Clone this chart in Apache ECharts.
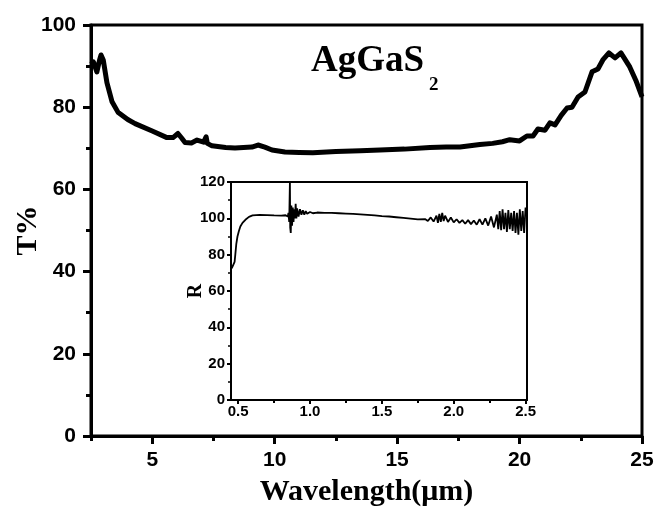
<!DOCTYPE html>
<html>
<head>
<meta charset="utf-8">
<script src="https://cdn.jsdelivr.net/npm/echarts@6/dist/echarts.min.js"></script>
<style>html,body{margin:0;padding:0;background:#fff}#c{width:659px;height:513px}</style>
</head>
<body>
<div id="c"></div>
<script>
// Main transmittance curve (wavelength in µm, T%)
var mainX = [2.5, 2.6, 2.74, 2.85, 2.91, 3.0, 3.15, 3.36, 3.6, 4.0, 4.3, 5.0, 5.6, 5.85, 6.05, 6.2, 6.34, 6.6, 6.83, 7.1, 7.2, 7.25, 7.44, 8.0, 8.38, 9.07, 9.32, 9.6, 9.89, 10.42, 11.0, 11.56, 12.5, 13.5, 14.3, 15.3, 16.34, 17.0, 17.57, 18.38, 18.9, 19.3, 19.6, 20.0, 20.3, 20.55, 20.75, 21.04, 21.24, 21.45, 21.7, 21.94, 22.14, 22.39, 22.67, 22.96, 23.2, 23.4, 23.65, 23.9, 24.14, 24.5, 24.75, 25];
var mainT = [90.5, 91, 88.6, 91.5, 92.7, 91.5, 86, 81.3, 78.8, 77, 76, 74.2, 72.6, 72.6, 73.6, 72.5, 71.4, 71.3, 72, 71.5, 72.8, 71.2, 70.6, 70.2, 70.1, 70.3, 70.8, 70.3, 69.6, 69.1, 69, 68.9, 69.2, 69.4, 69.6, 69.8, 70.2, 70.3, 70.3, 70.9, 71.2, 71.6, 72.1, 71.8, 73, 73, 74.7, 74.4, 76.2, 75.7, 78, 79.8, 80, 82.5, 83.7, 88.6, 89.3, 91.5, 93.2, 92, 93.2, 89.8, 86.5, 82.5];

// Inset reflectance curve (wavelength in µm, R)
var insetX = [0.455, 0.465, 0.475, 0.48, 0.487, 0.495, 0.505, 0.515, 0.53, 0.55, 0.575, 0.6, 0.65, 0.7, 0.75, 0.8, 0.83, 0.845, 0.85, 0.855, 0.86, 0.862, 0.866, 0.87, 0.875, 0.88, 0.885, 0.89, 0.895, 0.9, 0.905, 0.91, 0.92, 0.93, 0.94, 0.95, 0.96, 0.97, 0.98, 1.0, 1.02, 1.05, 1.1, 1.15, 1.2, 1.25, 1.3, 1.35, 1.4, 1.45, 1.5, 1.55, 1.6, 1.65, 1.7, 1.75, 1.8, 1.82, 1.84, 1.86, 1.88, 1.89, 1.9, 1.91, 1.92, 1.93, 1.94, 1.96, 1.98, 2.0, 2.02, 2.04, 2.06, 2.08, 2.1, 2.12, 2.14, 2.16, 2.18, 2.2, 2.22, 2.24, 2.26, 2.28, 2.3, 2.31, 2.32, 2.33, 2.34, 2.35, 2.36, 2.37, 2.38, 2.39, 2.4, 2.41, 2.42, 2.43, 2.44, 2.45, 2.46, 2.47, 2.48, 2.49, 2.5];
var insetR = [72.5, 73, 76, 80, 86, 90, 93, 95.5, 97.5, 99.2, 100.8, 101.6, 101.9, 101.8, 101.6, 101.5, 101.7, 101, 103, 98, 120, 95, 92, 107, 96, 106, 98, 105, 100, 108, 100, 105.5, 101, 105, 102, 104.5, 102, 104, 102.5, 103.5, 102.8, 103.2, 103, 103, 102.8, 102.6, 102.4, 102.2, 101.9, 101.6, 101.2, 101, 100.6, 100.2, 99.8, 99.4, 99.6, 98.5, 100.5, 98.2, 101.5, 97.5, 102.5, 98, 103, 98.5, 101.5, 98, 100.5, 97.8, 99.5, 97.5, 99, 97, 99, 96.8, 98.8, 96.5, 99.5, 96.5, 100, 96, 101, 95, 102, 94, 104, 93.5, 105, 94, 103, 92.5, 104.5, 94, 103, 93, 104, 92, 103, 91, 105, 93, 104, 92, 106];

// Tick values
var mainXMajor = [5, 10, 15, 20, 25];
var mainXMinor = [2.5, 7.5, 12.5, 17.5, 22.5];
var insetXMajor = [0.5, 1.0, 1.5, 2.0, 2.5];
var insetXMinor = [0.75, 1.25, 1.75, 2.25];

var sans = 'Liberation Sans';
var serif = 'Liberation Serif';

function zip(a, b) { return a.map(function (v, i) { return [v, b[i]]; }); }

var chart = echarts.init(document.getElementById('c'), null, { renderer: 'canvas' });
chart.setOption({
  animation: false,
  backgroundColor: '#fff',
  grid: [
    { left: 91, top: 25, width: 551, height: 411, show: true, borderColor: '#000', borderWidth: 3, backgroundColor: 'transparent', containLabel: false, outerBoundsMode: 'none' },
    { left: 231, top: 182, width: 296, height: 218, show: true, borderColor: '#000', borderWidth: 2, backgroundColor: '#fff', containLabel: false, outerBoundsMode: 'none' }
  ],
  xAxis: [
    {
      gridIndex: 0, type: 'value', min: 2.5, max: 25,
      name: 'Wavelength(μm)', nameLocation: 'middle', nameGap: 41, nameMoveOverlap: false,
      nameTextStyle: { fontFamily: serif, fontWeight: 'bold', fontSize: 30, color: '#000' },
      axisLine: { show: true, lineStyle: { color: '#000', width: 3 } },
      axisTick: { show: true, length: 8, inside: false, customValues: mainXMajor, lineStyle: { color: '#000', width: 3 } },
      axisLabel: { show: true, customValues: mainXMajor, margin: 14, fontFamily: sans, fontWeight: 'bold', fontSize: 21, color: '#000' },
      splitLine: { show: false }
    },
    {
      gridIndex: 0, type: 'value', min: 2.5, max: 25, position: 'bottom',
      axisLine: { show: false },
      axisTick: { show: true, length: 5, customValues: mainXMinor, lineStyle: { color: '#000', width: 3 } },
      axisLabel: { show: false },
      splitLine: { show: false }
    },
    {
      gridIndex: 1, type: 'value', min: 0.45, max: 2.51,
      axisLine: { show: true, lineStyle: { color: '#000', width: 2 } },
      axisTick: { show: true, length: 4, customValues: insetXMajor, lineStyle: { color: '#000', width: 2 } },
      axisLabel: { show: true, customValues: insetXMajor, margin: 4, fontFamily: sans, fontWeight: 'bold', fontSize: 15, color: '#000',
        formatter: function (v) { return v.toFixed(1); } },
      splitLine: { show: false }
    },
    {
      gridIndex: 1, type: 'value', min: 0.45, max: 2.51, position: 'bottom',
      axisLine: { show: false },
      axisTick: { show: true, length: 3, customValues: insetXMinor, lineStyle: { color: '#000', width: 2 } },
      axisLabel: { show: false },
      splitLine: { show: false }
    }
  ],
  yAxis: [
    {
      gridIndex: 0, type: 'value', min: 0, max: 100, interval: 20,
      name: 'T%', nameLocation: 'middle', nameGap: 48, nameMoveOverlap: false,
      nameTextStyle: { fontFamily: serif, fontWeight: 'bold', fontSize: 30, color: '#000' },
      axisLine: { show: true, lineStyle: { color: '#000', width: 3 } },
      axisTick: { show: true, length: 8, lineStyle: { color: '#000', width: 3 } },
      minorTick: { show: true, splitNumber: 2, length: 5, lineStyle: { color: '#000', width: 3 } },
      axisLabel: { margin: 15, fontFamily: sans, fontWeight: 'bold', fontSize: 21, color: '#000' },
      splitLine: { show: false }
    },
    {
      gridIndex: 1, type: 'value', min: 0, max: 120, interval: 20,
      name: 'R', nameLocation: 'middle', nameGap: 25, nameMoveOverlap: false,
      nameTextStyle: { fontFamily: serif, fontWeight: 'bold', fontSize: 20, color: '#000' },
      axisLine: { show: true, lineStyle: { color: '#000', width: 2 } },
      axisTick: { show: true, length: 4, lineStyle: { color: '#000', width: 2 } },
      minorTick: { show: true, splitNumber: 2, length: 3, lineStyle: { color: '#000', width: 1.5 } },
      axisLabel: { margin: 6, fontFamily: sans, fontWeight: 'bold', fontSize: 15, color: '#000' },
      splitLine: { show: false }
    }
  ],
  graphic: [
    { type: 'text', left: 311, top: 43, style: { text: 'AgGaS', fontFamily: serif, fontWeight: 'bold', fontSize: 37, fill: '#000' } },
    { type: 'text', left: 429, top: 76, style: { text: '2', fontFamily: serif, fontWeight: 'bold', fontSize: 19, fill: '#000' } }
  ],
  series: [
    {
      type: 'line', xAxisIndex: 0, yAxisIndex: 0, data: zip(mainX, mainT),
      showSymbol: false, symbol: 'none', lineStyle: { color: '#000', width: 5, join: 'round' }, z: 3
    },
    {
      type: 'line', xAxisIndex: 2, yAxisIndex: 1, data: zip(insetX, insetR),
      showSymbol: false, symbol: 'none', lineStyle: { color: '#000', width: 1.8 }, z: 3
    }
  ]
});
</script>
</body>
</html>
